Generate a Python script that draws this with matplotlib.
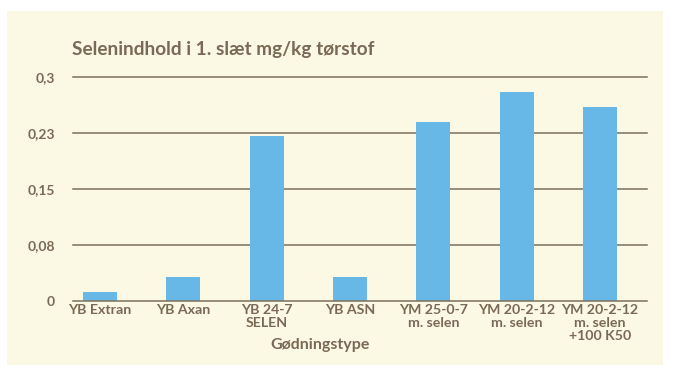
import matplotlib
matplotlib.use("Agg")
import matplotlib.pyplot as plt
import numpy as np

categories = ["YB Extran", "YB Axan", "YB 24-7\nSELEN", "YB ASN",
              "YM 25-0-7\nm. selen", "YM 20-2-12\nm. selen", "YM 20-2-12\nm. selen\n+100 K50"]
values = [0.012, 0.033, 0.221, 0.033, 0.240, 0.280, 0.260]
yticks = [0, 0.075, 0.15, 0.225, 0.3]
ytick_labels = ["0", "0,08", "0,15", "0,23", "0,3"]
title = "Selenindhold i 1. slæt mg/kg tørstof"
xlabel = "Gødningstype"

TXT = "#7a6a55"
GRID = "#7d705c"
BG = "#fbf8e3"
BAR = "#67b8e6"

plt.rcParams['font.family'] = ['Lato', 'DejaVu Sans']

fig = plt.figure(figsize=(6.74, 3.78), dpi=100)
fig.patch.set_facecolor("white")
bg = fig.add_axes([7/674, 1-365/378, (663-7)/674, (365-11)/378], zorder=-5)
bg.set_facecolor(BG)
bg.set_xticks([]); bg.set_yticks([])
for s in bg.spines.values():
    s.set_visible(False)

ax = fig.add_axes([73/674, 1-301.3/378, (647-73)/674, (301.3-77.3)/378], zorder=1)
ax.set_facecolor("none")
x = np.arange(len(categories))
ax.bar(x, values, width=0.41, color=BAR, zorder=1)
ax.set_xlim(-0.324, 6.565)
ax.set_ylim(0, 0.3)
ax.set_yticks(yticks)
ax.set_yticklabels(ytick_labels)
ax.set_xticks(x)
ax.set_xticklabels(categories, linespacing=1.1)
for yv in yticks:
    ax.axhline(yv, color=GRID, lw=1.1, zorder=2 if yv == 0 else 0.5, clip_on=False)
for s in ax.spines.values():
    s.set_visible(False)
ax.tick_params(axis='both', length=0, colors=TXT)
ax.tick_params(axis='y', pad=13, labelsize=10)
ax.tick_params(axis='x', pad=2, labelsize=10.2)
for lab in ax.get_xticklabels() + ax.get_yticklabels():
    lab.set_color(TXT)
    lab.set_fontweight('bold')

fig.text(72/674, 1-50/378, title, color=TXT, fontsize=13.7, fontweight='bold', va='center', ha='left')
fig.text(320/674, 1-345/378, xlabel, color=TXT, fontsize=11.5, fontweight='bold', va='center', ha='center')

fig.savefig("out.png", dpi=100, facecolor=fig.get_facecolor())
